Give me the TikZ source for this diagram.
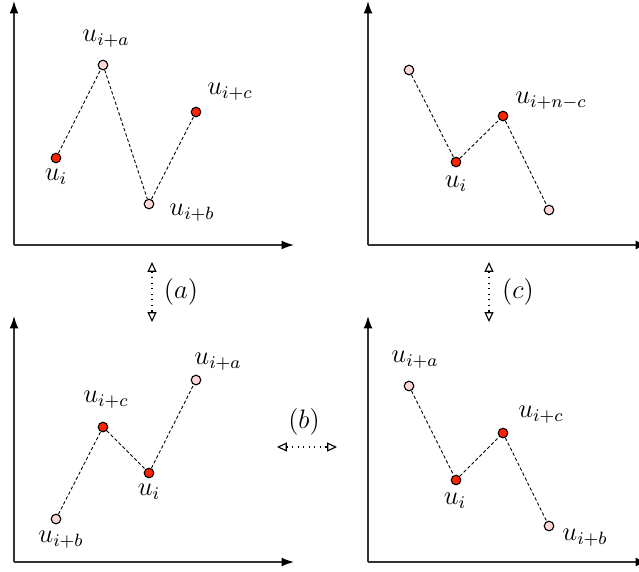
\documentclass[tikz,border=0pt]{standalone}
\usepackage{tikz}
\usetikzlibrary{arrows.meta,positioning}
\definecolor{ptred}{HTML}{FF2200}
\definecolor{ptpink}{HTML}{FCD9D6}
\definecolor{axisgrey}{HTML}{333333}

\begin{document}
\begin{tikzpicture}[x=0.45pt,y=-0.45pt,
  pt/.style={draw,circle,minimum size=4.3pt,inner sep=0pt,line width=0.5pt},
  hot/.style={fill=ptred},
  cold/.style={fill=ptpink},
  link/.style={line width=0.4pt,dash pattern=on 1.5pt off 1pt},
  axis/.style={axisgrey,line width=0.65pt,-{Latex[black,length=5.6pt,width=4pt]}},
  swap/.style={line width=0.5pt,dash pattern=on 0.5pt off 2pt,
    {Triangle[open,length=4.4pt,width=4pt]}-{Triangle[open,length=4.4pt,width=4pt]}},
  tag/.style={inner sep=0pt,font=\fontsize{11.5}{13}\selectfont}]
  \useasboundingbox (0,0) rectangle (639,571);

  % panel a
  \coordinate (oa) at (14,245);
  \draw[axis] (oa) -- (14,1);
  \draw[axis] (oa) -- (294,245);
  \node[pt,hot]  (a0) at (56,158)  {};
  \node[pt,cold] (aa) at (103,65)  {};
  \node[pt,cold] (ab) at (149,204) {};
  \node[pt,hot]  (ac) at (196,112) {};
  \draw[link] (a0) -- (aa) -- (ab) -- (ac);
  \node[tag] at (56,177)  {$u_i$};
  \node[tag] at (106,39)  {$u_{i+a}$};
  \node[tag] at (192,213) {$u_{i+b}$};
  \node[tag] at (230,92)  {$u_{i+c}$};

  % panel c
  \coordinate (oc) at (368,245);
  \draw[axis] (oc) -- (368,1);
  \draw[axis] (oc) -- (648,245);
  \node[pt,cold] (c1) at (409,70)  {};
  \node[pt,hot]  (c0) at (456,162) {};
  \node[pt,hot]  (c2) at (503,116) {};
  \node[pt,cold] (c3) at (549,210) {};
  \draw[link] (c1) -- (c0) -- (c2) -- (c3);
  \node[tag] at (456,184) {$u_i$};
  \node[tag] at (551,101) {$u_{i+n-c}$};

  % panel b, left
  \coordinate (ob) at (14,562);
  \draw[axis] (ob) -- (14,316);
  \draw[axis] (ob) -- (294,562);
  \node[pt,cold] (bb) at (56,519)  {};
  \node[pt,hot]  (bc) at (103,427) {};
  \node[pt,hot]  (b0) at (149,473) {};
  \node[pt,cold] (ba) at (196,380) {};
  \draw[link] (bb) -- (bc) -- (b0) -- (ba);
  \node[tag] at (61,540)  {$u_{i+b}$};
  \node[tag] at (106,400) {$u_{i+c}$};
  \node[tag] at (149,492) {$u_i$};
  \node[tag] at (218,362) {$u_{i+a}$};

  % panel b, right
  \coordinate (od) at (368,562);
  \draw[axis] (od) -- (368,316);
  \draw[axis] (od) -- (648,562);
  \node[pt,cold] (da) at (409,386) {};
  \node[pt,hot]  (d0) at (456,480) {};
  \node[pt,hot]  (dc) at (503,433) {};
  \node[pt,cold] (db) at (549,526) {};
  \draw[link] (da) -- (d0) -- (dc) -- (db);
  \node[tag] at (415,360) {$u_{i+a}$};
  \node[tag] at (455,501) {$u_i$};
  \node[tag] at (541,415) {$u_{i+c}$};
  \node[tag] at (585,538) {$u_{i+b}$};

  % moves
  \coordinate (sa1) at (152,262);
  \coordinate (sa2) at (152,322);
  \draw[swap] (sa1) -- (sa2);
  \node[tag] at (181,292) {$(a)$};
  \coordinate (sc1) at (489,262);
  \coordinate (sc2) at (489,322);
  \draw[swap] (sc1) -- (sc2);
  \node[tag] at (518,292) {$(c)$};
  \coordinate (sb1) at (277,447);
  \coordinate (sb2) at (337,447);
  \draw[swap] (sb1) -- (sb2);
  \node[tag] at (304,422) {$(b)$};
\end{tikzpicture}
\end{document}
